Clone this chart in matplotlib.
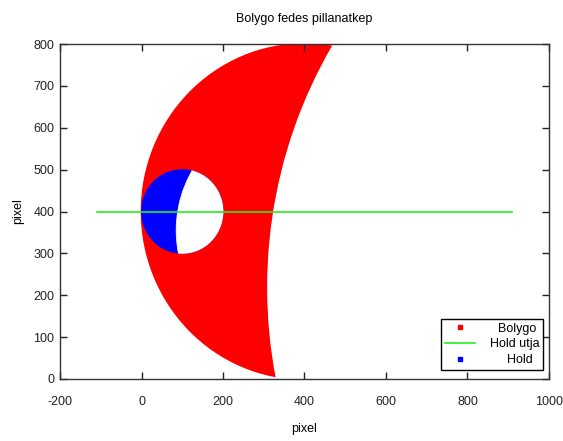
import matplotlib
matplotlib.use("Agg")
import matplotlib.pyplot as plt
from matplotlib.patches import Circle
from matplotlib.lines import Line2D

plt.rcParams['font.family'] = ['Liberation Sans', 'DejaVu Sans']
plt.rcParams['font.size'] = 9
plt.rcParams['axes.unicode_minus'] = False

# geometry (pixel units)
planet_center = (400, 400)
planet_r = 402
planet_shadow_center = (1432, 219)
planet_shadow_r = 1122
moon_center = (100, 400)
moon_r = 101
moon_shadow_center = (365, 355)
moon_shadow_r = 280
path_x = [-110, 910]
path_y = [400, 400]

xticks = [-200, 0, 200, 400, 600, 800, 1000]
yticks = [0, 100, 200, 300, 400, 500, 600, 700, 800]

fig = plt.figure(figsize=(5.63, 4.41), dpi=100)
ax = fig.add_axes([0.1066, 0.1406, 0.8685, 0.7596])

red, green, blue = '#ff0000', '#22ee22', '#0000ff'

planet = Circle(planet_center, planet_r, fc=red, lw=0, zorder=1)
ax.add_patch(planet)
pshadow = Circle(planet_shadow_center, planet_shadow_r, fc='white', ec='white',
                 lw=1, zorder=1.1)
ax.add_patch(pshadow)

moon = Circle(moon_center, moon_r, fc=blue, lw=0, zorder=1.2)
ax.add_patch(moon)
mshadow = Circle(moon_shadow_center, moon_shadow_r, fc='white', ec='white', lw=0.5, zorder=1.3)
ax.add_patch(mshadow)
mshadow.set_clip_path(moon)

ax.plot(path_x, path_y, color=green, lw=1.2, zorder=3)

ax.set_xlim(-200, 1000)
ax.set_ylim(0, 800)
ax.set_xticks(xticks)
ax.set_yticks(yticks)
ax.tick_params(direction='in', length=5, width=1, top=True, right=True,
               colors='#222222', labelcolor='#222222')
ax.tick_params(axis='x', pad=12)
ax.tick_params(axis='y', pad=4)
for s in ax.spines.values():
    s.set_color('#333333')
    s.set_linewidth(1)

ax.set_title('Bolygo fedes pillanatkep', fontsize=9, pad=16)
ax.set_xlabel('pixel', labelpad=11)
ax.set_ylabel('pixel', labelpad=7)

handles = [
    Line2D([], [], marker='s', ms=2.5, color=red, ls='none'),
    Line2D([], [], color=green, lw=1.2),
    Line2D([], [], marker='s', ms=2.5, color=blue, ls='none'),
]
leg = ax.legend(handles, ['Bolygo', 'Hold utja', 'Hold'], loc='lower right',
                bbox_to_anchor=(0.988, 0.027), borderaxespad=0, fancybox=False,
                framealpha=1, edgecolor='black', handlelength=2.4,
                handletextpad=1.2, labelspacing=0.3, borderpad=0.3)
leg.get_frame().set_linewidth(1)

# right-justify legend labels like gnuplot
fig.canvas.draw()
renderer = fig.canvas.get_renderer()
widths = [t.get_window_extent(renderer).width for t in leg.get_texts()]
wmax = max(widths)
for t, w in zip(leg.get_texts(), widths):
    t.set_position(((wmax - w) * 72.0 / fig.dpi, 0))

fig.savefig('out.png', dpi=100)
